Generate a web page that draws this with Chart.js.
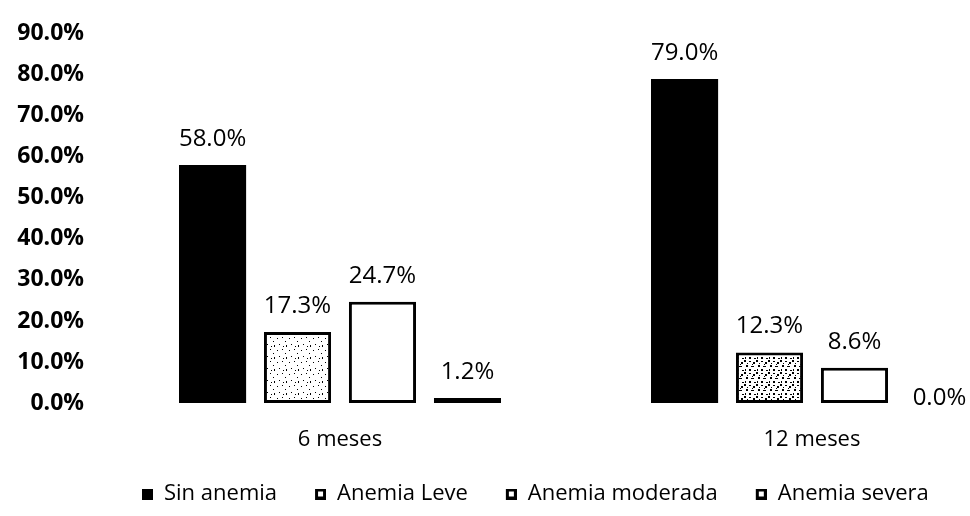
<!DOCTYPE html>
<html><head><meta charset="utf-8">
<script src="https://cdn.jsdelivr.net/npm/chart.js@4/dist/chart.umd.min.js"></script>
<style>
html,body{margin:0;padding:0;background:#fff;overflow:hidden;width:970px;height:516px;}
#wrap{position:relative;width:970px;height:516px;overflow:hidden;}
#c{position:absolute;left:0;top:0;}
</style></head><body>
<div id="wrap"><canvas id="c" width="1048" height="516"></canvas></div>
<script>
const categories = ['6 meses', '12 meses'];
const seriesNames = ['Sin anemia', 'Anemia Leve', 'Anemia moderada', 'Anemia severa'];
const sinAnemia = [58.0, 79.0];
const anemiaLeve = [17.3, 12.3];
const anemiaModerada = [24.7, 8.6];
const anemiaSevera = [1.2, 0.0];
const yTickValues = [0, 10, 20, 30, 40, 50, 60, 70, 80, 90];

const FONT = "'Open Sans', 'DejaVu Sans', sans-serif";

// speckled texture (fixed dot layout)
function makePattern(dots) {
  const p = document.createElement('canvas');
  p.width = 12; p.height = 12;
  const g = p.getContext('2d');
  g.fillStyle = '#fff';
  g.fillRect(0, 0, 12, 12);
  g.fillStyle = '#000';
  dots.forEach(d => g.fillRect(d[0], d[1], d[2] || 1, d[3] || 1));
  return g.createPattern(p, 'repeat');
}
const ctx = document.getElementById('c').getContext('2d');
const lightSpeck = makePattern([[1,2],[6,1],[9,5],[3,8],[7,10],[10,9,1,2]]);
const darkSpeck = makePattern([[0,0,2,2],[5,1,2,1],[9,2,2,2],[2,5,2,2],[7,6,3,1],[1,9,1,2],[5,9,2,2],[10,10,2,1],[8,4],[3,3]]);

// legend marker images: blank lead-in gap, then an 11x11 marker at the right
const GAP = 32, MK = 11;
function makeMarker(solid) {
  const m = document.createElement('canvas');
  m.width = GAP + MK; m.height = MK;
  const g = m.getContext('2d');
  g.fillStyle = '#000';
  g.fillRect(GAP, 0, MK, MK);
  if (!solid) { g.fillStyle = '#fff'; g.fillRect(GAP + 3, 3, MK - 6, MK - 6); }
  return m;
}
const markers = [makeMarker(true), makeMarker(false), makeMarker(false), makeMarker(false)];

const labelPlugin = {
  id: 'valueLabels',
  afterDatasetsDraw(chart) {
    const c = chart.ctx;
    c.save();
    c.font = "24px " + FONT;
    c.fillStyle = '#000';
    c.textAlign = 'center';
    c.textBaseline = 'middle';
    chart.data.datasets.forEach((ds, di) => {
      const meta = chart.getDatasetMeta(di);
      meta.data.forEach((el, i) => {
        const v = ds.data[i];
        const y = v === 0 ? el.y - 5 : el.y - 26;
        c.fillText(v.toFixed(1) + '%', el.x, y);
      });
    });
    c.restore();
  }
};

new Chart(ctx, {
  type: 'bar',
  data: {
    labels: categories,
    datasets: [
      { label: seriesNames[0], data: sinAnemia, backgroundColor: '#000', borderWidth: 0 },
      { label: seriesNames[1], data: anemiaLeve, backgroundColor: [lightSpeck, darkSpeck], borderColor: '#000', borderWidth: 3, borderSkipped: false },
      { label: seriesNames[2], data: anemiaModerada, backgroundColor: '#fff', borderColor: '#000', borderWidth: 3, borderSkipped: false },
      { label: seriesNames[3], data: anemiaSevera, backgroundColor: '#fff', borderColor: '#000', borderWidth: 3, borderSkipped: false }
    ]
  },
  options: {
    responsive: false,
    animation: false,
    devicePixelRatio: 1,
    layout: { padding: { left: 0, right: 0, top: 29, bottom: 1 } },
    datasets: { bar: { categoryPercentage: 0.72, barPercentage: 0.79 } },
    scales: {
      x: {
        grid: { display: false, drawTicks: false },
        border: { display: false },
        ticks: { color: '#000', font: { family: FONT, size: 22 }, padding: 24 },
        afterFit(s) { s.height = 74; }
      },
      y: {
        min: 0, max: 90,
        afterBuildTicks(s) { s.ticks = yTickValues.map(v => ({ value: v })); },
        grid: { display: false, drawTicks: false },
        border: { display: false },
        ticks: { color: '#000', font: { family: FONT, size: 23, weight: 'bold' }, padding: 20,
                 callback: v => v.toFixed(1) + '%' },
        afterFit(s) { s.width = 104; }
      }
    },
    plugins: {
      tooltip: { enabled: false },
      legend: {
        position: 'bottom',
        fullSize: false,
        align: 'start',
        labels: {
          color: '#000',
          font: { family: FONT, size: 22 },
          usePointStyle: true,
          pointStyleWidth: GAP + MK,
          boxHeight: MK,
          padding: 6,
          generateLabels(chart) {
            return chart.data.datasets.map((ds, i) => ({
              text: ds.label,
              fillStyle: '#000',
              strokeStyle: '#000',
              lineWidth: 0,
              pointStyle: markers[i],
              hidden: false,
              datasetIndex: i,
              fontColor: '#000'
            }));
          }
        }
      }
    }
  },
  plugins: [labelPlugin]
});
</script>
</body></html>
